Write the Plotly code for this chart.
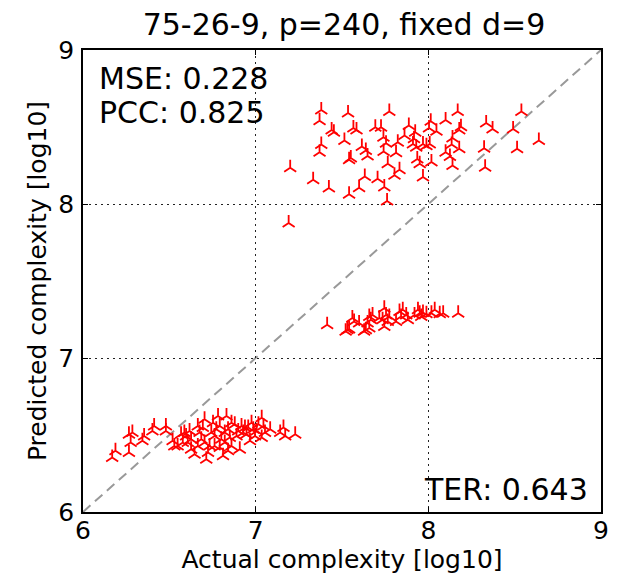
import plotly.graph_objects as go

# ---- data ----
title = "75-26-9, p=240, fixed d=9"
x_label = "Actual complexity [log10]"
y_label = "Predicted complexity [log10]"
tick_vals = [6, 7, 8, 9]
mse_text = "MSE: 0.228"
pcc_text = "PCC: 0.825"
ter_text = "TER: 0.643"

top_actual = [7.380, 7.535, 7.774, 8.170, 8.539, 7.370, 8.100, 8.014, 8.335, 7.440, 7.453,
              7.566, 7.584, 7.693, 7.726, 7.887, 8.189, 8.179, 8.372, 8.491, 8.004, 8.047,
              7.924, 7.862, 7.740, 7.755, 7.514, 7.823, 7.917, 7.911, 7.930, 7.969, 7.989,
              8.008, 8.140, 8.135, 8.179, 8.640, 7.380, 7.370, 7.615, 7.638, 7.648, 7.741,
              7.813, 8.100, 8.125, 8.323, 8.514, 7.551, 7.541, 7.936, 7.950, 8.018, 8.140,
              8.329, 7.200, 7.765, 7.833, 7.804, 7.632, 7.706, 7.969, 7.333, 7.424, 7.599,
              7.745, 7.541, 7.761, 7.191]
top_pred = [8.610, 8.591, 8.601, 8.601, 8.601, 8.541, 8.545, 8.537, 8.526, 8.481, 8.466,
            8.494, 8.481, 8.498, 8.498, 8.509, 8.502, 8.481, 8.487, 8.487, 8.494, 8.472,
            8.466, 8.444, 8.433, 8.395, 8.412, 8.401, 8.423, 8.390, 8.369, 8.390, 8.379,
            8.390, 8.429, 8.386, 8.358, 8.412, 8.386, 8.336, 8.373, 8.347, 8.311, 8.341,
            8.332, 8.336, 8.308, 8.362, 8.358, 8.298, 8.287, 8.293, 8.261, 8.272, 8.250,
            8.239, 8.235, 8.261, 8.222, 8.186, 8.179, 8.164, 8.175, 8.158, 8.104, 8.106,
            8.110, 8.063, 8.020, 7.877]

mid_actual = [7.414, 7.560, 7.570, 7.531, 7.521, 7.541, 7.658, 7.667, 7.648, 7.677, 7.638,
              7.658, 7.628, 7.745, 7.755, 7.735, 7.765, 7.745, 7.774, 7.833, 7.852, 7.872,
              7.842, 7.881, 7.940, 7.950, 7.969, 7.989, 8.037, 8.086, 8.173, 7.813, 7.716,
              7.599, 7.920, 7.959, 8.066, 8.018]
mid_pred = [7.216, 7.259, 7.237, 7.183, 7.173, 7.188, 7.270, 7.248, 7.227, 7.280, 7.183,
            7.194, 7.173, 7.323, 7.280, 7.248, 7.237, 7.205, 7.270, 7.302, 7.313, 7.280,
            7.270, 7.248, 7.313, 7.291, 7.295, 7.287, 7.313, 7.291, 7.291, 7.237, 7.259,
            7.227, 7.280, 7.270, 7.287, 7.291]

low_actual = [6.169, 6.188, 6.266, 6.276, 6.266, 6.286, 6.354, 6.344, 6.412, 6.402, 6.480,
              6.480, 6.519, 6.529, 6.597, 6.607, 6.587, 6.626, 6.646, 6.665, 6.675, 6.685,
              6.665, 6.714, 6.724, 6.733, 6.743, 6.753, 6.782, 6.792, 6.801, 6.811, 6.792,
              6.831, 6.840, 6.850, 6.860, 6.879, 6.889, 6.908, 6.918, 6.928, 6.938, 6.976,
              6.986, 6.996, 6.967, 7.035, 7.045, 7.035, 7.084, 7.142, 7.161, 7.171, 7.229,
              6.704, 6.762, 6.626, 6.568, 6.617, 6.694, 6.704, 6.772, 6.821, 6.821, 6.860,
              6.899, 6.947, 6.957, 7.006, 7.016, 7.054, 6.548, 6.578, 6.762, 6.840]
low_pred = [6.354, 6.397, 6.386, 6.451, 6.505, 6.516, 6.494, 6.462, 6.559, 6.526, 6.559,
            6.526, 6.462, 6.429, 6.494, 6.451, 6.516, 6.408, 6.375, 6.559, 6.516, 6.472,
            6.429, 6.343, 6.386, 6.429, 6.516, 6.580, 6.623, 6.559, 6.472, 6.365, 6.419,
            6.623, 6.537, 6.483, 6.429, 6.569, 6.494, 6.408, 6.559, 6.516, 6.548, 6.580,
            6.537, 6.494, 6.462, 6.612, 6.559, 6.483, 6.537, 6.516, 6.548, 6.494, 6.505,
            6.451, 6.494, 6.472, 6.505, 6.526, 6.548, 6.602, 6.537, 6.516, 6.451, 6.580,
            6.526, 6.505, 6.548, 6.526, 6.569, 6.516, 6.429, 6.451, 6.429, 6.397]

axis_range = [6, 9]

xs = top_actual + mid_actual + low_actual
ys = top_pred + mid_pred + low_pred

fig = go.Figure()
fig.add_trace(go.Scatter(
    x=xs, y=ys, mode="markers",
    marker=dict(symbol="y-up", size=10, color="red",
                line=dict(color="red", width=1.8)),
    showlegend=False, hoverinfo="skip"))

fig.add_shape(type="line", xref="x", yref="y",
              x0=axis_range[0], y0=axis_range[0], x1=axis_range[1], y1=axis_range[1],
              line=dict(color="#999999", width=2, dash="10px,6px"), layer="below")

font_family = "DejaVu Sans"
axis_common = dict(range=axis_range, tickvals=tick_vals, showgrid=True,
                   gridcolor="#222222", griddash="2px,4px", gridwidth=1,
                   zeroline=False, showline=True, linecolor="black", linewidth=1.5,
                   mirror="ticks", ticks="inside", ticklen=5, tickcolor="black",
                   automargin=False,
                   tickfont=dict(size=25, color="black", family=font_family))

fig.update_xaxes(**axis_common, ticklabelstandoff=-5, title=dict(text=x_label, standoff=0,
                 font=dict(size=25, color="black", family=font_family)))
fig.update_yaxes(**axis_common, ticklabelstandoff=2, title=dict(text=y_label, standoff=5,
                 font=dict(size=25, color="black", family=font_family)))

ann_font = dict(size=30, color="black", family=font_family)
fig.add_annotation(x=0.027, y=0.939, xref="paper", yref="paper", xanchor="left", yanchor="middle",
                   text=mse_text, showarrow=False, font=ann_font)
fig.add_annotation(x=0.027, y=0.864, xref="paper", yref="paper", xanchor="left", yanchor="middle",
                   text=pcc_text, showarrow=False, font=ann_font)
fig.add_annotation(x=0.979, y=0.048, xref="paper", yref="paper", xanchor="right", yanchor="middle",
                   text=ter_text, showarrow=False, font=ann_font)

fig.update_layout(
    width=625, height=574,
    margin=dict(l=75, r=32, t=42, b=70),
    paper_bgcolor="white", plot_bgcolor="white",
    title=dict(text=title, x=0.5376, xanchor="center", y=0.9705, yanchor="middle",
               font=dict(size=30, color="black", family=font_family)),
    font=dict(family=font_family, color="black"),
)

fig.write_html("out.html")
